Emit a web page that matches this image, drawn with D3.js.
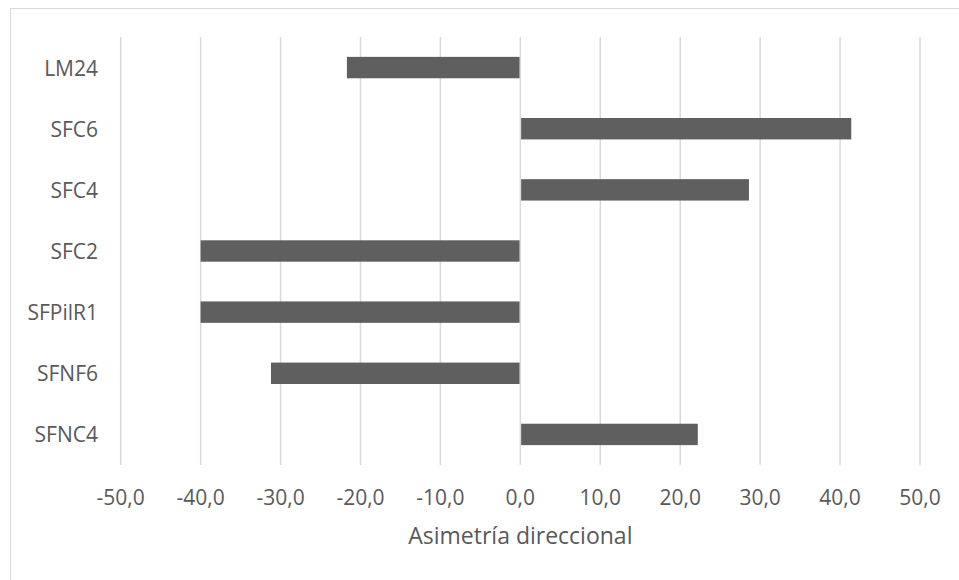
<!DOCTYPE html>
<html>
<head>
<meta charset="utf-8">
<script src="https://cdn.jsdelivr.net/npm/d3@7"></script>
<style>
  html, body { margin: 0; padding: 0; background: #fff; }
  svg { display: block; }
  text { font-family: "Open Sans", sans-serif; fill: #595959; }
</style>
</head>
<body>
<svg id="chart" width="959" height="580"></svg>
<script>
const categories = ["LM24", "SFC6", "SFC4", "SFC2", "SFPilR1", "SFNF6", "SFNC4"];
const values = [-21.7, 41.4, 28.6, -40.0, -40.0, -31.2, 22.2];
const xTicks = [-50, -40, -30, -20, -10, 0, 10, 20, 30, 40, 50];
const xTitle = "Asimetría direccional";

const svg = d3.select("#chart");
const W = 959, H = 580;
const plot = { left: 120.7, right: 920, top: 37, bottom: 465 };

// outer chart border
svg.append("rect")
  .attr("x", 10.5).attr("y", 8.5)
  .attr("width", W + 10).attr("height", H + 10)
  .attr("fill", "#fff").attr("stroke", "#d9d9d9").attr("stroke-width", 1);

const x = d3.scaleLinear().domain([-50, 50]).range([plot.left, plot.right]);
const y = d3.scaleBand().domain(categories).range([plot.top, plot.bottom]).paddingInner(0.65).paddingOuter(0.325);
const yc = d3.scaleBand().domain(categories).range([plot.top, plot.bottom]);

// gridlines
svg.append("g").selectAll("line").data(xTicks).join("line")
  .attr("x1", d => x(d)).attr("x2", d => x(d))
  .attr("y1", plot.top).attr("y2", plot.bottom)
  .attr("stroke", "#d9d9d9").attr("stroke-width", 1.5);

// bars
svg.append("g").selectAll("rect").data(categories).join("rect")
  .attr("x", (d, i) => values[i] < 0 ? x(values[i]) : x(0) + 0.8)
  .attr("width", (d, i) => Math.abs(x(values[i]) - x(0)) - 0.8)
  .attr("y", d => y(d))
  .attr("height", y.bandwidth())
  .attr("fill", "#5f5f5f");

// y labels
svg.append("g").selectAll("text").data(categories).join("text")
  .attr("x", 98)
  .attr("y", d => yc(d) + yc.bandwidth() / 2)
  .attr("text-anchor", "end")
  .attr("dominant-baseline", "central")
  .style("font-size", "21px")
  .text(d => d);

// x tick labels
const fmt = d => d.toFixed(1).replace(".", ",");
svg.append("g").selectAll("text").data(xTicks).join("text")
  .attr("x", d => x(d))
  .attr("y", 497)
  .attr("text-anchor", "middle")
  .attr("dominant-baseline", "central")
  .style("font-size", "21px")
  .text(fmt);

// axis title
svg.append("text")
  .attr("x", (plot.left + plot.right) / 2)
  .attr("y", 535)
  .attr("text-anchor", "middle")
  .attr("dominant-baseline", "central")
  .style("font-size", "23px")
  .text(xTitle);
</script>
</body>
</html>
